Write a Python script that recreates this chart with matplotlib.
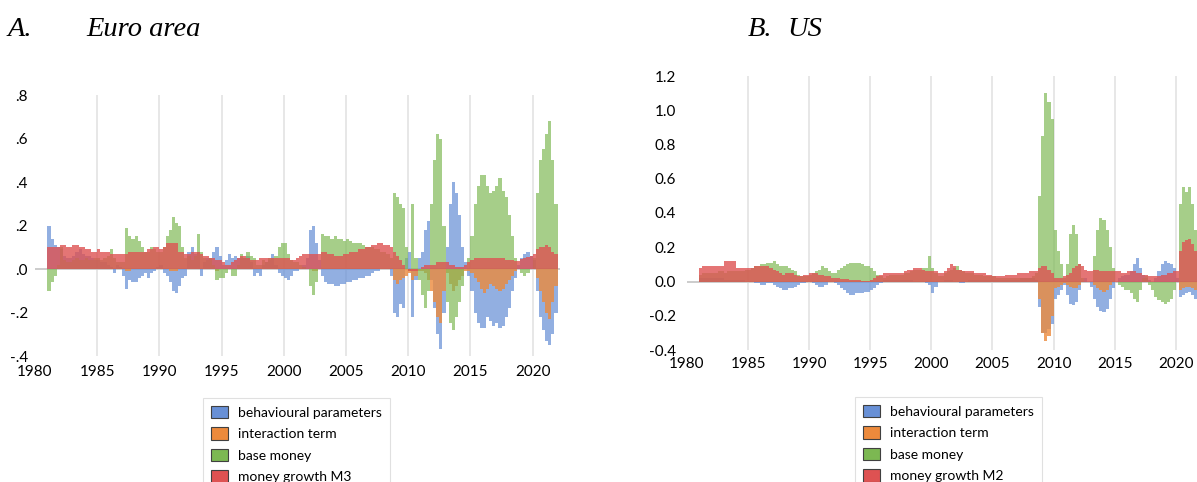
import numpy as np
import matplotlib
matplotlib.use("Agg")
import matplotlib.pyplot as plt
from matplotlib.patches import Patch

# ---------------- data (quarterly, 1981Q1 .. 2021Q4) ----------------
start_year = 1981
n_years = 41

series_names_ea = ["behavioural parameters", "interaction term", "base money", "money growth M3"]
series_names_us = ["behavioural parameters", "interaction term", "base money", "money growth M2"]

ea_behav = [
    .20, .14, .11, .10,   .09, .06, .05, .05,   .06, .08, .09, .07,   .06, .06, .05, .04,
    .04, .03, .03, .02,   .01, -.02, .02, .01,  -.03, -.09, -.05, -.06, -.06, -.04, -.03, -.02,
    -.04, -.02, -.01, .01, .02, -.02, -.03, -.06, -.10, -.11, -.08, -.04, -.03, .08, .10, .07,
    .08, -.03, .03, .05,  .05, .08, .10, .06,   .02, .04, .07, .05,   .06, .05, .05, .05,
    .06, .03, -.03, -.02, -.03, .02, .03, .04,  .07, .02, -.02, -.03, -.04, -.05, -.03, -.01,
    -.01, .00, .02, .05,  .18, .20, .12, .04,  -.03, -.06, -.07, -.07, -.08, -.08, -.07, -.07,
    -.06, -.06, -.05, -.05, -.04, -.04, -.03, -.03, -.02, -.01, -.01, .00, .00, .00, -.03, -.20,
    -.22, -.16, -.18, .05, .08, -.22, -.05, .05, .08, .18, .22, -.05, -.18, -.30, -.37, -.20,
    .10, .30, .40, .35,   .25, .10, .03, -.03, -.10, -.20, -.25, -.27, -.27, -.22, -.24, -.26,
    -.25, -.27, -.26, -.22, -.18, -.10, -.04, .02, .05, .07, .08, .06,  .04, -.10, -.22, -.28,
    -.33, -.35, -.30, -.20,
]
ea_inter = [
    .00, .00, .00, .00,   .00, .00, .00, .00,   .00, .00, .00, .00,   .00, .00, .00, .00,
    .00, .00, .00, .00,   .00, .00, .00, .00,   .00, -.01, -.01, .00,  .00, .00, .00, .00,
    .00, .00, .00, .00,   .00, .00, .00, -.01,  -.01, -.01, .00, .00,  .00, .00, .00, .00,
    .00, .00, .00, .00,   .00, .00, -.01, .00,  .00, .00, .00, .00,   .00, .00, .00, .00,
    .00, .00, .00, .00,   .00, .00, .00, .00,   .00, .00, .00, .00,   .00, .00, .00, .00,
    .00, .00, .00, .00,   .00, -.01, -.01, .00,  .00, .00, .00, .00,  .00, .00, .00, .00,
    .00, .00, .00, .00,   .00, .00, .00, .00,   .00, .00, .00, .00,   .00, .00, .00, -.05,
    -.07, -.05, -.04, -.03, -.02, -.05, -.03, -.01, -.01, -.02, -.05, -.10, -.15, -.22, -.25, -.10,
    -.02, -.07, -.10, -.08, -.05, -.03, -.01, -.01, -.02, -.04, -.06, -.09, -.11, -.09, -.07, -.08,
    -.09, -.10, -.09, -.07, -.05, -.03, -.01, .00,  .00, .00, .00, .00,  .00, -.04, -.10, -.15,
    -.20, -.23, -.15, -.08,
]
ea_base = [
    -.10, -.06, -.03, .02, .10, .04, .03, .03,   .04, .05, .04, .04,   .05, .04, .04, .05,
    .05, .04, .05, .06,   .09, .05, .03, .03,   .03, .19, .15, .14,   .15, .13, .10, .08,
    .08, .10, .09, .08,   .08, .10, .15, .18,   .24, .21, .20, .10,   .05, .06, .04, .06,
    .16, .08, .05, .04,   .05, .02, -.05, -.04, -.04, -.02, .00, -.03, -.03, .02, .07, .05,
    .08, .06, .05, .02,   .02, .04, .03, .05,   .05, .06, .10, .12,   .12, .07, .04, .03,
    .03, .02, .01, .00,  -.08, -.12, -.06, .00,  .16, .15, .15, .14,   .15, .14, .14, .13,
    .14, .13, .12, .12,   .12, .11, .10, .10,   .10, .09, .09, .08,   .08, .07, .05, .35,
    .33, .30, .28, .10,  -.01, .30, .05, -.05, -.12, -.18, -.10, .30,  .50, .62, .60, .20,
    -.15, -.25, -.28, -.22, -.15, -.08, .00, .05, .15, .30, .38, .43,  .43, .38, .35, .36,
    .38, .42, .36, .33,   .25, .15, .05, .00,  -.02, -.03, -.02, .00,  .05, .35, .50, .55,
    .62, .68, .50, .30,
]
ea_money = [
    .10, .10, .10, .10,   .11, .11, .10, .10,   .11, .11, .10, .10,   .09, .09, .08, .08,
    .09, .08, .08, .08,   .07, .07, .07, .07,   .07, .07, .08, .08,   .08, .08, .08, .08,
    .09, .09, .10, .10,   .09, .10, .12, .12,   .12, .12, .08, .08,   .07, .07, .08, .08,
    .08, .07, .06, .06,   .05, .05, .04, .04,   .03, .02, .02, .03,   .04, .05, .06, .06,
    .05, .04, .04, .04,   .05, .05, .05, .05,   .05, .05, .05, .05,   .05, .05, .04, .04,
    .05, .06, .07, .07,   .07, .07, .07, .07,   .08, .08, .07, .07,   .06, .06, .06, .07,
    .07, .08, .08, .08,   .09, .09, .10, .10,   .11, .11, .12, .12,   .11, .11, .10, .08,
    .06, .04, .02, .00,  -.01, -.01, -.01, .00,  .01, .02, .02, .02,   .02, .03, .03, .03,
    .03, .02, .02, .01,   .01, .01, .02, .03,   .04, .05, .05, .05,   .05, .05, .05, .05,
    .05, .05, .05, .04,   .04, .04, .035, .035, .045, .05, .055, .06, .07, .09, .10, .10,
    .11, .10, .08, .07,
]

us_behav = [
    .02, .02, .02, .02,   .02, .02, .02, .02,   .01, .01, .01, .01,   .01, .01, .01, .00,
    .00, .00, -.01, -.01, -.02, -.02, -.01, -.01, -.02, -.03, -.04, -.05, -.05, -.04, -.04, -.03,
    -.02, -.01, -.01, .00, .00, -.01, -.02, -.03, -.03, -.02, .00, .00, -.01, -.02, -.04, -.05,
    -.07, -.08, -.08, -.07, -.07, -.07, -.06, -.06, -.05, -.04, -.02, -.01, .01, .01, .01, .01,
    .01, .01, .01, .01,   .01, .01, .00, .00,   .00, .00, -.01, -.02, -.07, -.03, .00, .00,
    .01, .01, .01, .00,   .00, -.01, -.01, .00,  .01, .01, .01, .01,   .01, .01, .01, .01,
    .01, .01, .01, .01,   .01, .01, .01, .01,   .01, .02, .02, .02,   .02, .02, .01, -.15,
    -.30, -.30, -.28, -.25, -.10, -.08, -.05, -.02, -.08, -.13, -.14, -.12, -.05, .00, .02, .00,
    -.03, -.10, -.15, -.17, -.18, -.16, -.10, -.04, .00, .02, .03, .04,  .04, .06, .10, .14,
    .08, .04, .02, .01,   .00, .02, .06, .10,   .12, .11, .10, .08,   .02, -.09, -.08, -.07,
    -.06, -.08, -.10, -.10,
]
us_inter = [
    .00, .00, .00, .00,   .00, .00, .00, .00,   .00, .00, .00, .00,   .00, .00, .00, .00,
    .00, .00, .00, .00,   .00, .00, .00, .00,   .00, .00, .00, .00,   .00, .00, .00, .00,
    .00, .00, .00, .00,   .00, .00, .00, .00,   .00, .00, .00, .00,   .00, .00, .00, .00,
    .00, .00, .00, .00,   .00, .00, .00, .00,   .00, .00, .00, .00,   .00, .00, .00, .00,
    .00, .00, .00, .00,   .00, .00, .00, .00,   .00, .00, .00, .00,   .00, .00, .00, .00,
    .00, .00, .00, .00,   .00, .00, .00, .00,   .00, .00, .00, .00,   .00, .00, .00, .00,
    .00, .00, .00, .00,   .00, .00, .00, .00,   .00, .00, .00, .00,   .00, .00, .00, -.10,
    -.30, -.35, -.32, -.20, -.04, -.03, -.02, -.01, -.02, -.03, -.04, -.04, -.02, .00, .00, .00,
    .00, -.02, -.04, -.05, -.06, -.05, -.02, .00, .00, .00, .00, .00,   .00, .00, .00, .00,
    .00, .00, .00, .00,   .00, .00, .00, .00,   .00, .00, .00, .00,   .00, -.05, -.04, -.03,
    -.03, -.04, -.05, -.05,
]
us_base = [
    .04, .05, .05, .05,   .05, .05, .06, .06,   .05, .06, .06, .06,   .06, .06, .06, .07,
    .07, .08, .09, .09,   .10, .10, .11, .11,   .12, .10, .09, .09,   .09, .08, .07, .06,
    .04, .03, .03, .03,   .04, .05, .06, .07,   .09, .08, .06, .05,   .05, .07, .08, .09,
    .10, .11, .11, .11,   .11, .10, .09, .09,   .08, .06, .04, .03,   .02, .03, .04, .04,
    .04, .04, .04, .05,   .05, .06, .07, .07,   .07, .08, .08, .15,   .08, .05, .03, .03,
    .05, .06, .07, .08,   .09, .07, .06, .05,   .05, .05, .04, .04,   .04, .03, .03, .03,
    .03, .02, .02, .02,   .02, .02, .02, .02,   .02, .02, .02, .02,   .02, .03, .05, .50,
    .85, 1.10, 1.05, .95, .30, .18, .10, .02,   .10, .28, .33, .28,   .10, .02, .00, .00,
    .00, .15, .30, .37,   .36, .30, .20, .08,   .00, -.02, -.03, -.05, -.05, -.07, -.10, -.12,
    -.05, .02, .03, -.02, -.05, -.09, -.11, -.12, -.13, -.12, -.10, -.05, .00, .45, .55, .52,
    .55, .45, .30, .25,
]
us_money = [
    .08, .09, .09, .09,   .09, .09, .09, .09,   .12, .12, .12, .12,   .08, .08, .08, .08,
    .08, .08, .09, .09,   .09, .09, .09, .08,   .07, .06, .05, .04,   .05, .05, .05, .04,
    .03, .03, .04, .04,   .05, .05, .05, .04,   .04, .03, .03, .02,   .02, .02, .015, .015,
    .015, .01, .01, .01,  .01, .005, .005, .005, .01, .02, .03, .04,  .05, .05, .05, .05,
    .05, .05, .05, .06,   .07, .07, .08, .08,   .08, .07, .06, .06,   .06, .06, .05, .05,
    .06, .08, .10, .09,   .07, .07, .06, .06,   .06, .06, .05, .05,   .05, .05, .04, .04,
    .03, .03, .03, .03,   .04, .04, .04, .04,   .05, .05, .05, .05,   .06, .06, .06, .08,
    .09, .09, .07, .05,   .02, .02, .02, .03,   .04, .05, .08, .09,   .10, .09, .07, .06,
    .06, .07, .07, .06,   .06, .06, .06, .06,   .06, .06, .05, .05,   .06, .06, .06, .05,
    .05, .04, .04, .03,   .03, .03, .03, .04,   .04, .05, .05, .06,   .06, .18, .23, .24,
    .25, .22, .18, .14,
]

ea_yticks = [-.4, -.2, 0, .2, .4, .6, .8]
ea_ylabels = ["-.4", "-.2", ".0", ".2", ".4", ".6", ".8"]
us_yticks = [-.4, -.2, 0, .2, .4, .6, .8, 1.0, 1.2]
us_ylabels = ["-0.4", "-0.2", "0.0", "0.2", "0.4", "0.6", "0.8", "1.0", "1.2"]
xtick_years = [1980, 1985, 1990, 1995, 2000, 2005, 2010, 2015, 2020]

# ---------------- style ----------------
colors = ["#6890D6", "#EC8A3C", "#7CB852", "#DE5252"]
alphas = [0.72, 0.8, 0.68, 0.8]

plt.rcParams["font.family"] = ["Lato", "DejaVu Sans"]

W, H = 1197, 482
fig = plt.figure(figsize=(W / 100, H / 100), dpi=100)

dates = start_year + np.arange(n_years * 4) / 4.0


def px_axes(l, t, r, b):
    return fig.add_axes([l / W, 1 - b / H, (r - l) / W, (b - t) / H])


def draw_panel(ax, series, xlim, yticks, ylabels):
    for vals, c, a in zip(series, colors, alphas):
        ax.bar(dates, vals, width=0.25, align="edge", color=c, alpha=a,
               linewidth=0, zorder=2)
    ax.axhline(0, color="#C8C8C8", lw=1.3, zorder=1)
    ax.set_xlim(*xlim)
    ax.set_ylim(yticks[0], yticks[-1])
    ax.set_yticks(yticks)
    ax.set_yticklabels(ylabels)
    ax.set_xticks(xtick_years)
    ax.set_xticklabels([str(y) for y in xtick_years])
    ax.grid(axis="x", color="#E3E3E3", lw=1.2, zorder=0)
    ax.set_axisbelow(True)
    for s in ax.spines.values():
        s.set_visible(False)
    ax.tick_params(length=0, labelsize=11, colors="#000000")
    ax.tick_params(axis="x", pad=6.5)
    for tk in ax.xaxis.get_major_ticks():
        if tk.get_loc() == 1980:
            tk.gridline.set_visible(False)


ax1 = px_axes(35, 95, 560, 356)
draw_panel(ax1, [ea_behav, ea_inter, ea_base, ea_money], (1980, 2022.2),
           ea_yticks, ea_ylabels)
ax1.tick_params(axis="y", pad=5)

ax2 = px_axes(687, 76, 1210, 350)
draw_panel(ax2, [us_behav, us_inter, us_base, us_money], (1980, 2022.8),
           us_yticks, us_ylabels)
ax2.tick_params(axis="y", pad=8)
ax2.tick_params(axis="x", pad=5)

# titles
title_kw = dict(fontsize=20.5, style="italic", family=["Liberation Serif", "DejaVu Serif"],
                va="center", ha="left")
fig.text(8 / W, 1 - 29 / H, "A.", **title_kw)
fig.text(86 / W, 1 - 29 / H, "Euro area", **title_kw)
fig.text(748 / W, 1 - 29 / H, "B.", **title_kw)
fig.text(787 / W, 1 - 29 / H, "US", **title_kw)


def add_legend(names, x, y):
    handles = [Patch(facecolor=c, edgecolor="#404040", linewidth=0.8)
               for c in colors]
    leg = fig.legend(handles, names, loc="upper left",
                     bbox_to_anchor=(x / W, 1 - y / H), frameon=True,
                     fontsize=10, handlelength=1.25, handleheight=1.0,
                     labelspacing=0.62, borderpad=0.55, handletextpad=0.75,
                     borderaxespad=0, fancybox=False)
    leg.get_frame().set_edgecolor("#D9D9D9")
    leg.get_frame().set_linewidth(0.8)


add_legend(series_names_ea, 203, 398)
add_legend(series_names_us, 855, 397)

fig.savefig("out.png", dpi=100)
